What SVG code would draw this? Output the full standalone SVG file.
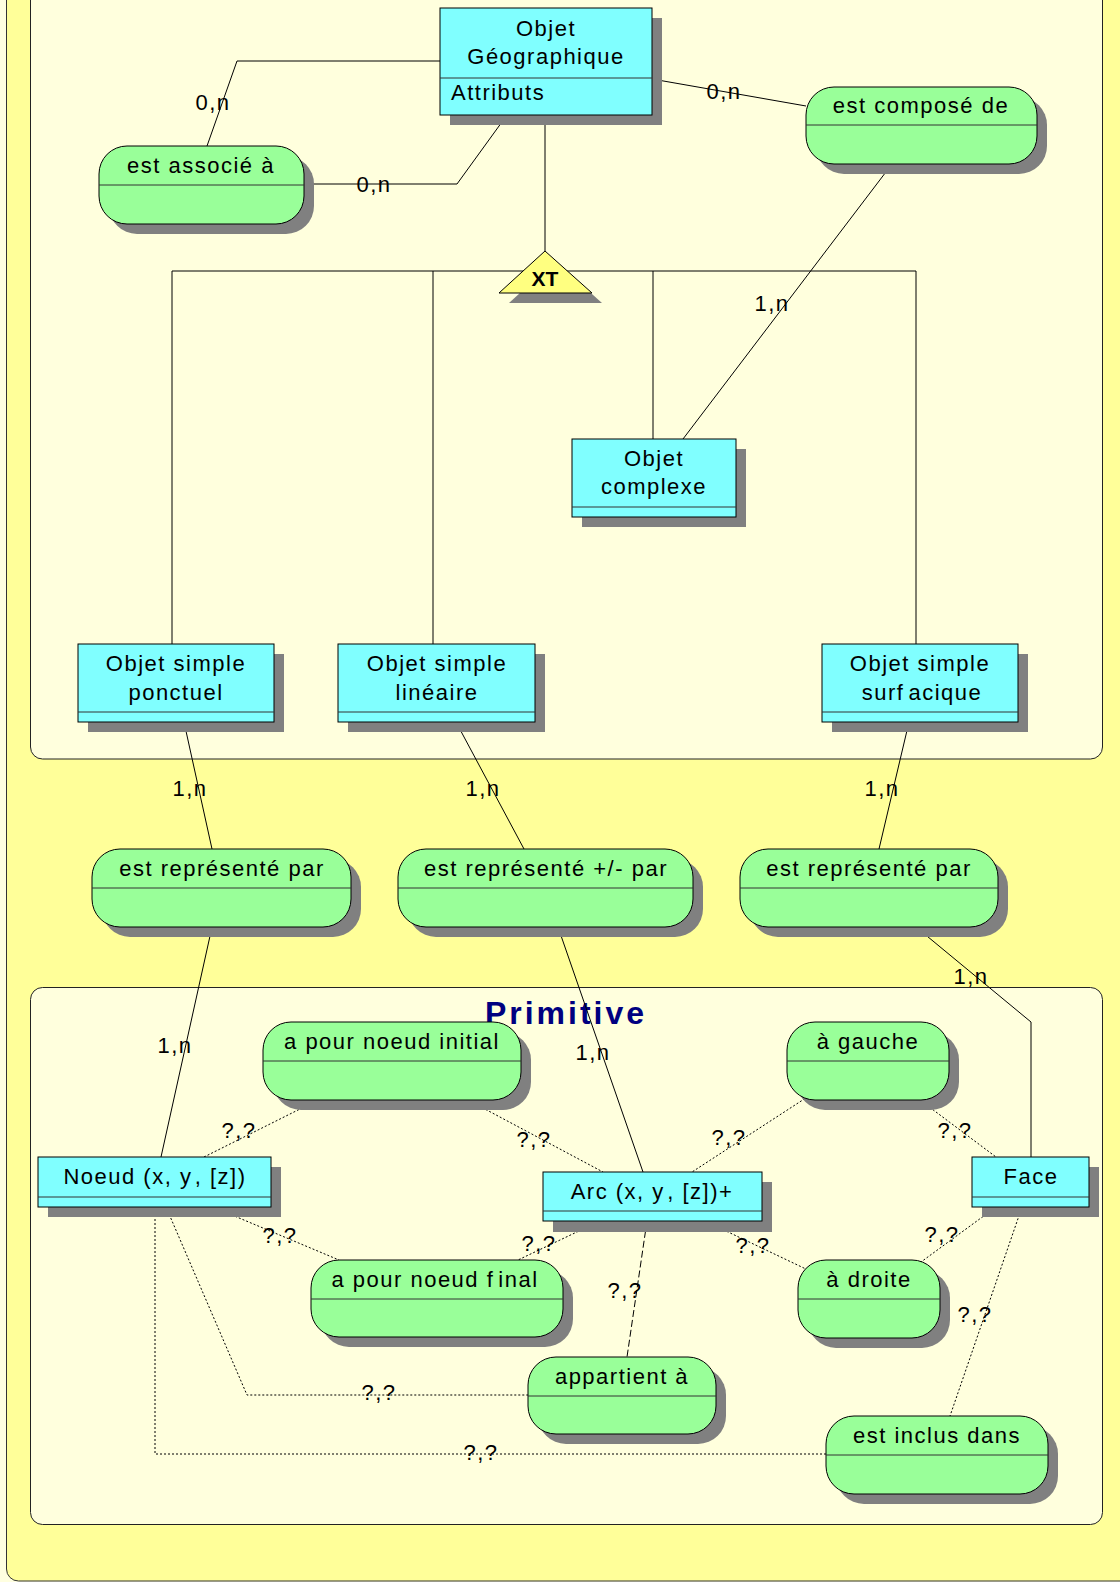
<svg xmlns="http://www.w3.org/2000/svg" width="1120" height="1582" viewBox="0 0 1120 1582">
<style>
.bg{fill:#FFFFE0}
.outer{fill:#FFFF99;stroke:#333;stroke-width:1}
.panel{fill:#FFFFDD;stroke:#222;stroke-width:1}
.ent{fill:#80FFFF;stroke:#000;stroke-width:1}
.asc{fill:#99FF99;stroke:#000;stroke-width:1}
.sep{stroke:#333;stroke-width:1}
.sh{fill:#808080}
.t{font-family:"Liberation Sans",Arial,sans-serif;font-size:22px;letter-spacing:1.5px;fill:#000}
.c{text-anchor:middle}
.lk{stroke:#000;fill:none;stroke-width:1}
.dot{stroke-dasharray:2,2}
.dash{stroke-dasharray:7,3}
.title{font-family:"Liberation Sans",Arial,sans-serif;font-size:32px;font-weight:bold;letter-spacing:3px;fill:#000080;text-anchor:middle}
.xt{font-family:"Liberation Sans",Arial,sans-serif;font-size:21px;font-weight:bold;fill:#000;text-anchor:middle}
</style>
<rect class="bg" x="0" y="0" width="1120" height="1582"/>
<rect class="outer" x="6.5" y="-20" width="1140" height="1601" rx="12"/>
<g id="panel-objets">
<rect class="panel" x="30.5" y="-20" width="1072" height="779" rx="12"/>
</g>
<g id="panel-primitive">
<rect class="panel" x="30.5" y="987.5" width="1072" height="537" rx="12"/>
<text class="title" x="566" y="1024">Primitive</text>
</g>

<g id="connectors">
<path class="lk" d="M440 61 H237 L207 146"/>
<path class="lk" d="M304 184 H457 L507 115"/>
<path class="lk" d="M652 79 L806 106"/>
<path class="lk" d="M545 115 V251"/>
<path class="lk" d="M172 271 H916"/>
<path class="lk" d="M172 271 V644"/>
<path class="lk" d="M433 271 V644"/>
<path class="lk" d="M653 271 V439"/>
<path class="lk" d="M916 271 V644"/>
<path class="lk" d="M892 164 L683 439"/>
<path class="lk" d="M184 722 L212 849"/>
<path class="lk" d="M456 722 L524 849"/>
<path class="lk" d="M909 722 L879 849"/>
<path class="lk" d="M212 927 L161 1157"/>
<path class="lk" d="M558 927 L643 1172"/>
<path class="lk" d="M916 927 L1031 1022 V1157"/>
<path class="lk dot" d="M204 1157 L318 1100"/>
<path class="lk dot" d="M468 1100 L603 1172"/>
<path class="lk dot" d="M213 1207 L339 1260"/>
<path class="lk dot" d="M600 1221 L518 1260"/>
<path class="lk dot" d="M815 1092 L692 1172"/>
<path class="lk dot" d="M920 1100 L996 1157"/>
<path class="lk dot" d="M705 1221 L808 1270"/>
<path class="lk dot" d="M996 1207 L921 1262"/>
<path class="lk dot" d="M1022 1207 L950 1416"/>
<path class="lk dot" d="M166 1207 L247 1395 H528"/>
<path class="lk dot" d="M155 1207 V1454 H826"/>
<path class="lk dash" d="M647 1221 L627 1357"/>
<g class="t c">
<text x="213" y="110">0,n</text>
<text x="374" y="192">0,n</text>
<text x="724" y="99">0,n</text>
<text x="772" y="311">1,n</text>
<text x="190" y="796">1,n</text>
<text x="483" y="796">1,n</text>
<text x="882" y="796">1,n</text>
<text x="971" y="984">1,n</text>
<text x="175" y="1053">1,n</text>
<text x="593" y="1060">1,n</text>
<text x="239" y="1138">?,?</text>
<text x="534" y="1147">?,?</text>
<text x="729" y="1145">?,?</text>
<text x="955" y="1138">?,?</text>
<text x="280" y="1243">?,?</text>
<text x="539" y="1251">?,?</text>
<text x="753" y="1253">?,?</text>
<text x="942" y="1242">?,?</text>
<text x="625" y="1298">?,?</text>
<text x="975" y="1322">?,?</text>
<text x="379" y="1400">?,?</text>
<text x="481" y="1460">?,?</text>
</g>
</g>

<g id="objet-geographique">
<rect class="sh" x="450" y="18" width="212" height="107"/>
<rect class="ent" x="440" y="8" width="212" height="107"/>
<line class="sep" x1="440" y1="78" x2="652" y2="78"/>
<text class="t c" x="546" y="36">Objet</text>
<text class="t c" x="546" y="64">Géographique</text>
<text class="t" x="451" y="100">Attributs</text>
</g>

<g id="gen-xt">
<polygon class="sh" points="555,261 602,303 509,303"/>
<polygon points="545,251 592,293 499,293" fill="#FFFF80" stroke="#000" stroke-width="1"/>
<text class="xt" x="545" y="286">XT</text>
</g>

<g id="objet-complexe">
<rect class="sh" x="582" y="449" width="164" height="78"/>
<rect class="ent" x="572" y="439" width="164" height="78"/>
<line class="sep" x1="572" y1="507" x2="736" y2="507"/>
<text class="t c" x="654" y="466">Objet</text>
<text class="t c" x="654" y="494">complexe</text>
</g>

<g id="objet-simple-ponctuel">
<rect class="sh" x="88" y="654" width="196" height="78"/>
<rect class="ent" x="78" y="644" width="196" height="78"/>
<line class="sep" x1="78" y1="712" x2="274" y2="712"/>
<text class="t c" x="176" y="671">Objet simple</text>
<text class="t c" x="176" y="700">ponctuel</text>
</g>

<g id="objet-simple-lineaire">
<rect class="sh" x="348" y="654" width="197" height="78"/>
<rect class="ent" x="338" y="644" width="197" height="78"/>
<line class="sep" x1="338" y1="712" x2="535" y2="712"/>
<text class="t c" x="437" y="671">Objet simple</text>
<text class="t c" x="437" y="700">linéaire</text>
</g>

<g id="objet-simple-surfacique">
<rect class="sh" x="832" y="654" width="196" height="78"/>
<rect class="ent" x="822" y="644" width="196" height="78"/>
<line class="sep" x1="822" y1="712" x2="1018" y2="712"/>
<text class="t c" x="920" y="671">Objet simple</text>
<text class="t c" x="922" y="700">surf<tspan dx="4">acique</tspan></text>
</g>

<g id="est-associe-a">
<rect class="sh" x="109" y="156" width="205" height="78" rx="28"/>
<rect class="asc" x="99" y="146" width="205" height="78" rx="28"/>
<line class="sep" x1="99" y1="185" x2="304" y2="185"/>
<text class="t c" x="201" y="173">est associé à</text>
</g>

<g id="est-compose-de">
<rect class="sh" x="816" y="97" width="231" height="77" rx="28"/>
<rect class="asc" x="806" y="87" width="231" height="77" rx="28"/>
<line class="sep" x1="806" y1="125" x2="1037" y2="125"/>
<text class="t c" x="921" y="113">est composé de</text>
</g>

<g id="est-represente-par-1">
<rect class="sh" x="102" y="859" width="259" height="78" rx="28"/>
<rect class="asc" x="92" y="849" width="259" height="78" rx="28"/>
<line class="sep" x1="92" y1="888" x2="351" y2="888"/>
<text class="t c" x="222" y="876">est représenté par</text>
</g>

<g id="est-represente-plus-moins-par">
<rect class="sh" x="408" y="859" width="295" height="78" rx="28"/>
<rect class="asc" x="398" y="849" width="295" height="78" rx="28"/>
<line class="sep" x1="398" y1="888" x2="693" y2="888"/>
<text class="t c" x="546" y="876">est représenté +/- par</text>
</g>

<g id="est-represente-par-2">
<rect class="sh" x="750" y="859" width="258" height="78" rx="28"/>
<rect class="asc" x="740" y="849" width="258" height="78" rx="28"/>
<line class="sep" x1="740" y1="888" x2="998" y2="888"/>
<text class="t c" x="869" y="876">est représenté par</text>
</g>

<g id="a-pour-noeud-initial">
<rect class="sh" x="273" y="1032" width="258" height="78" rx="28"/>
<rect class="asc" x="263" y="1022" width="258" height="78" rx="28"/>
<line class="sep" x1="263" y1="1061" x2="521" y2="1061"/>
<text class="t c" x="392" y="1049">a pour noeud initial</text>
</g>

<g id="a-gauche">
<rect class="sh" x="797" y="1032" width="162" height="78" rx="28"/>
<rect class="asc" x="787" y="1022" width="162" height="78" rx="28"/>
<line class="sep" x1="787" y1="1061" x2="949" y2="1061"/>
<text class="t c" x="868" y="1049">à gauche</text>
</g>

<g id="noeud">
<rect class="sh" x="48" y="1167" width="233" height="50"/>
<rect class="ent" x="38" y="1157" width="233" height="50"/>
<line class="sep" x1="38" y1="1197" x2="271" y2="1197"/>
<text class="t c" x="155" y="1184">Noeud (x, y<tspan dx="4">, [z])</tspan></text>
</g>

<g id="arc">
<rect class="sh" x="553" y="1182" width="219" height="50"/>
<rect class="ent" x="543" y="1172" width="219" height="49"/>
<line class="sep" x1="543" y1="1211" x2="762" y2="1211"/>
<text class="t c" x="652" y="1199">Arc (x, y<tspan dx="4">, [z])+</tspan></text>
</g>

<g id="face">
<rect class="sh" x="982" y="1167" width="117" height="50"/>
<rect class="ent" x="972" y="1157" width="117" height="50"/>
<line class="sep" x1="972" y1="1197" x2="1089" y2="1197"/>
<text class="t c" x="1031" y="1184">Face</text>
</g>

<g id="a-pour-noeud-final">
<rect class="sh" x="321" y="1270" width="252" height="77" rx="28"/>
<rect class="asc" x="311" y="1260" width="252" height="77" rx="28"/>
<line class="sep" x1="311" y1="1299" x2="563" y2="1299"/>
<text class="t c" x="435" y="1287">a pour noeud f<tspan dx="4">inal</tspan></text>
</g>

<g id="a-droite">
<rect class="sh" x="808" y="1270" width="142" height="78" rx="28"/>
<rect class="asc" x="798" y="1260" width="142" height="78" rx="28"/>
<line class="sep" x1="798" y1="1299" x2="940" y2="1299"/>
<text class="t c" x="869" y="1287">à droite</text>
</g>

<g id="appartient-a">
<rect class="sh" x="538" y="1367" width="188" height="77" rx="28"/>
<rect class="asc" x="528" y="1357" width="188" height="77" rx="28"/>
<line class="sep" x1="528" y1="1396" x2="716" y2="1396"/>
<text class="t c" x="622" y="1384">appartient à</text>
</g>

<g id="est-inclus-dans">
<rect class="sh" x="836" y="1426" width="222" height="78" rx="28"/>
<rect class="asc" x="826" y="1416" width="222" height="78" rx="28"/>
<line class="sep" x1="826" y1="1455" x2="1048" y2="1455"/>
<text class="t c" x="937" y="1443">est inclus dans</text>
</g>
</svg>
